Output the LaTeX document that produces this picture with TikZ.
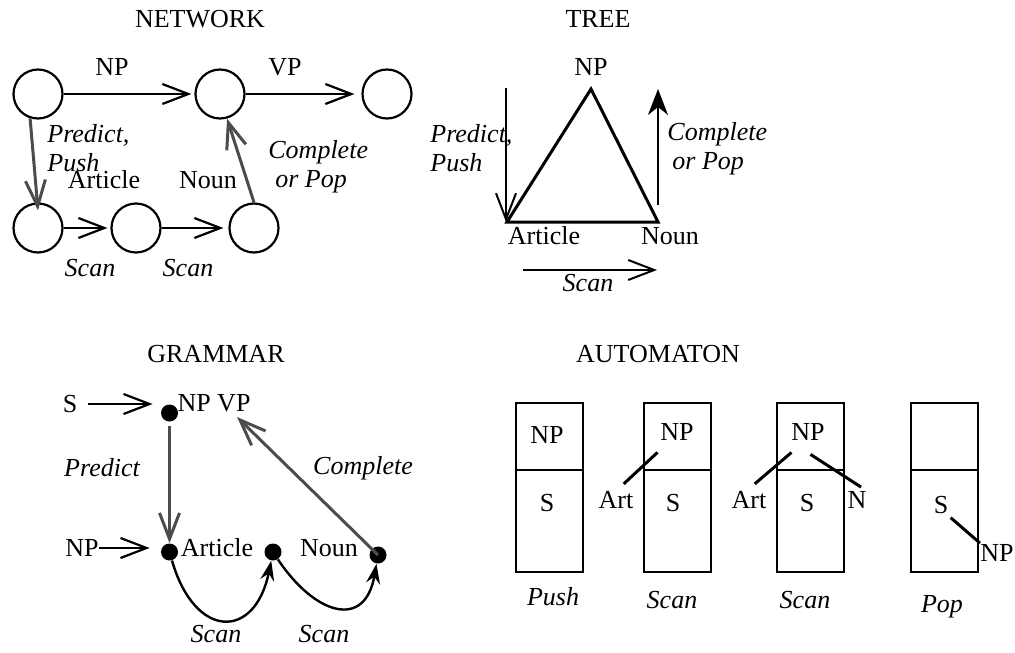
\documentclass[tikz,border=0pt]{standalone}
\usepackage{fontspec}
\setmainfont{Liberation Serif}
\usetikzlibrary{arrows.meta,calc}
\definecolor{arcgray}{gray}{0.3}
\tikzset{
	netstate/.style={draw,circle,line width=1.1pt,minimum size=24.5pt},
	gdot/.style={fill,circle,minimum size=8.5pt},
	slab/.style={font=\fontsize{13}{14.5}\selectfont\itshape},
	barb/.style={line width=1.1pt,-{Straight Barb[length=13pt,width=10pt]}},
	graybarb/.style={barb,draw=arcgray,line width=1.5pt},
	fillhead/.style={line width=1pt,-{Stealth[length=13pt,width=10pt,inset=4pt]}},
	scanarc/.style={line width=1.2pt,-{Stealth[length=10pt,width=7pt,inset=3.5pt]}},
	branch/.style={line width=1.5pt},
	stackbox/.style={line width=1.2pt}
}
\begin{document}
\begin{tikzpicture}[x=0.5pt,y=-0.5pt,font=\fontsize{13}{14.5}\selectfont,every node/.style={inner sep=0pt}]
	\useasboundingbox (0,0) rectangle (1015,652);

	\node (nethead) at (200,19) {NETWORK};
	\node[netstate] (n1) at (38,94) {};
	\node[netstate] (n2) at (220,94) {};
	\node[netstate] (n3) at (387,94) {};
	\node[netstate] (n4) at (38,228) {};
	\node[netstate] (n5) at (136,228) {};
	\node[netstate] (n6) at (254,228) {};
	\draw[barb,shorten >=1.5pt] (n1) -- (n2);
	\draw[barb,shorten >=3.5pt] (n2) -- (n3);
	\draw[barb,shorten >=1.5pt] (n4) -- (n5);
	\draw[barb,shorten >=2.5pt] (n5) -- (n6);
	\draw[graybarb] (n1.252) -- ([yshift=-4pt]n4.north);
	\draw[graybarb] (n6.north) -- (n2.-74);
	\node (lnp) at (112,67) {NP};
	\node (lvp) at (285,67) {VP};
	\node[slab,align=left,anchor=west] (lpush) at (47,148) {Predict,\\Push};
	\node[slab,align=left,anchor=west] (lpop) at (268,167) {Complete\\\hspace*{3.5pt}or Pop};
	\node (lart) at (104,180) {Article};
	\node (lnoun) at (208,180) {Noun};
	\node[slab] (lscan1) at (90,268) {Scan};
	\node[slab] (lscan2) at (188,268) {Scan};

	\node (treehead) at (598,19) {TREE};
	\coordinate (tnp) at (591,89);
	\coordinate (tart) at (507,222);
	\coordinate (tnoun) at (658,222);
	\draw[line width=1.5pt] (tnp) -- (tart) -- (tnoun) -- cycle;
	\node (ttop) at (591,67) {NP};
	\node (tartl) at (544,236) {Article};
	\node (tnounl) at (670,236) {Noun};
	\coordinate (tpredict) at (506,88);
	\coordinate (tcomplete) at (658,205);
	\draw[barb,line width=1pt] (tpredict) -- (tpredict |- tart);
	\draw[fillhead] (tcomplete) -- (tcomplete |- tnp);
	\node[slab,align=left,anchor=west] (tpush) at (430,148) {Predict,\\Push};
	\node[slab,align=left,anchor=west] (tpop) at (667,149) {Complete\\\hspace*{2.5pt}or Pop};
	\coordinate (tscanl) at (523,270);
	\coordinate (tscanr) at (657,270);
	\draw[barb,line width=1pt] (tscanl) -- (tscanr);
	\node[slab] (tscan) at (588,283) {Scan};

	\node (gramhead) at (216,354) {GRAMMAR};
	\node[gdot] (g1) at (169.5,413) {};
	\node[gdot] (g2) at (169.5,552) {};
	\node[gdot] (g3) at (273,552) {};
	\node[gdot] (g4) at (378,555) {};
	\node (gs) at (70,404) {S};
	\node (gnpvp) at (214,403) {NP VP};
	\node (gnp) at (82,548) {NP};
	\node (gart) at (217,548) {Article};
	\node (gnoun) at (329,548) {Noun};
	\node[slab] (gpredict) at (102,468) {Predict};
	\node[slab] (gcomplete) at (363,468) {Complete};
	\node[slab] (gscan1) at (216,634) {Scan};
	\node[slab] (gscan2) at (324,634) {Scan};
	\coordinate (gvp) at (237,417);
	\draw[barb,shorten <=5pt,shorten >=4pt] (gs) -- (gs -| g1.west);
	\draw[barb,shorten >=5.5pt] (gnp) -- (gnp -| g2.west);
	\draw[graybarb,shorten <=2pt] (g1) -- (g2);
	\draw[graybarb] (g4.center) -- (gvp);
	\draw[scanarc] (g2) .. controls (195,640) and (255,640) .. (g3);
	\draw[scanarc] (g3) .. controls (315,615) and (365,630) .. (g4);

	\node (autohead) at (658,354) {AUTOMATON};
	\foreach \x in {516,644,777,911}{
		\draw[stackbox] (\x,403) rectangle +(67,169);
		\draw[stackbox] (\x,470) -- +(67,0);
	}
	\node (anp1) at (547,435) {NP};
	\node (as1) at (547,503) {S};
	\node (anp2) at (677,432) {NP};
	\node (as2) at (673,503) {S};
	\node (aart2) at (616,500) {Art};
	\node (anp3) at (808,432) {NP};
	\node (as3) at (807,503) {S};
	\node (aart3) at (749,500) {Art};
	\node (an3) at (857,500) {N};
	\node (as4) at (941,505) {S};
	\node (anp4) at (997,553) {NP};
	\draw[branch] ($(aart2.north east)+(-10,-7)$) -- ($(anp2.south west)+(-2.5,11.5)$);
	\draw[branch] ($(aart3.north east)+(-12,-7)$) -- ($(anp3.south west)+(0.5,11.5)$);
	\draw[branch] ($(anp3.south east)+(-14.5,13.5)$) -- ($(an3.north)+(4,-4)$);
	\draw[branch] ($(as4.south east)+(2,3.5)$) -- ($(anp4.north west)+(0,-1)$);
	\node[slab] (apush) at (553,597) {Push};
	\node[slab] (ascan1) at (672,600) {Scan};
	\node[slab] (ascan2) at (805,600) {Scan};
	\node[slab] (apop) at (942,607) {Pop};
\end{tikzpicture}
\end{document}
